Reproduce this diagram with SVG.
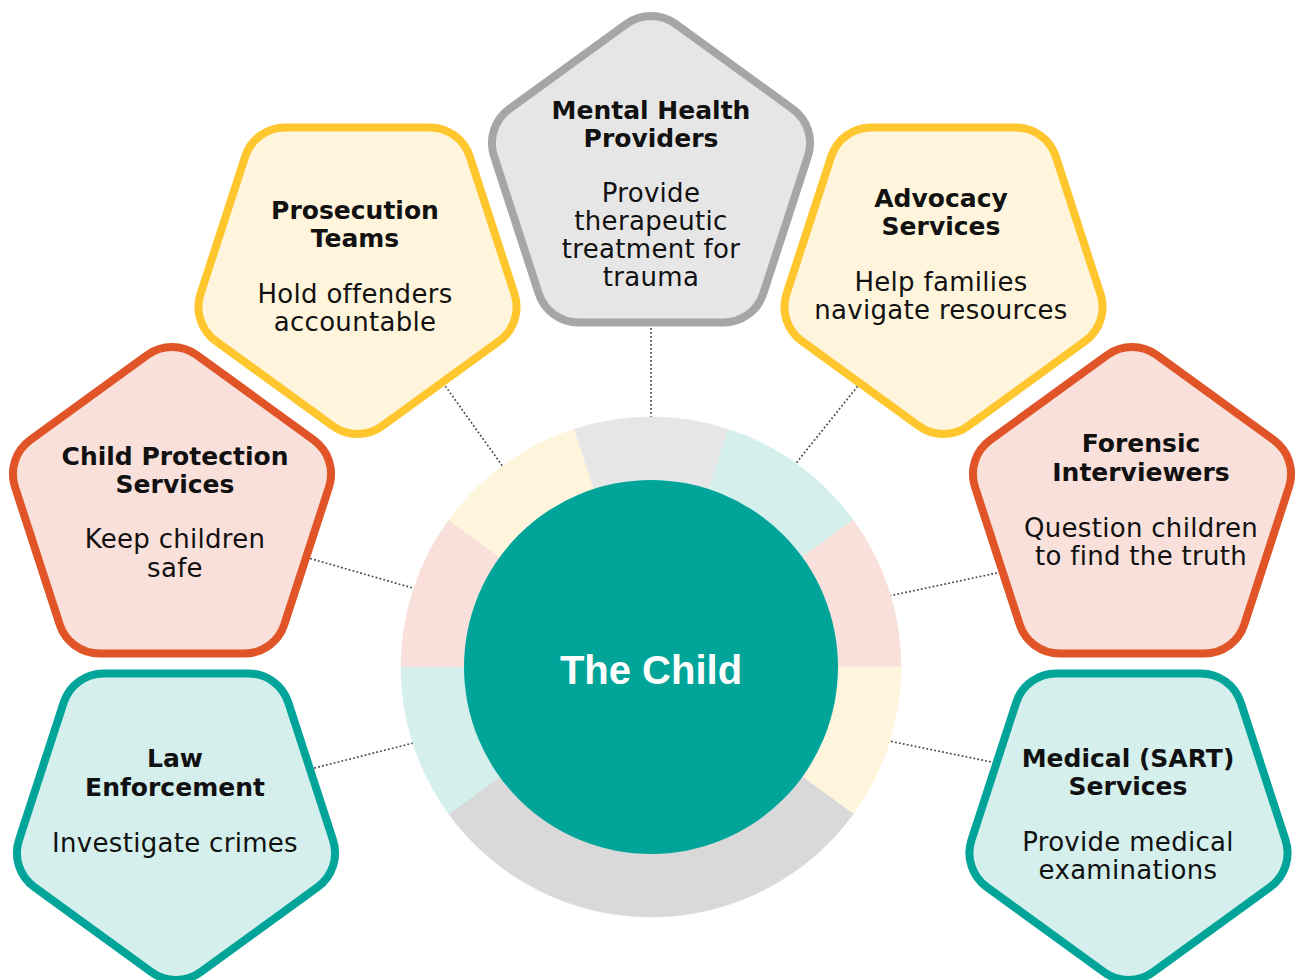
<svg xmlns="http://www.w3.org/2000/svg" xmlns:xlink="http://www.w3.org/1999/xlink" width="1297" height="980" viewBox="0 0 1297 980">
<style>
.pent{stroke-width:8}
.gray{fill:#E6E6E6;stroke:#A6A6A6}
.yel{fill:#FFF5DC;stroke:#FFC62E}
.red{fill:#F9E0DA;stroke:#E05427}
.teal{fill:#D4EFEC;stroke:#00A499}
.t{font-family:"DejaVu Sans",sans-serif;fill:#111;text-anchor:middle}
.h{font-size:25px;font-weight:bold}
.b{font-size:26px;letter-spacing:0.3px}
.conn{stroke:#4a4a4a;stroke-width:1.7;stroke-dasharray:1.8 2.2;fill:none}
.seg{stroke-width:0.6}
</style>
<defs>
<path id="pent" d="M24.69,-157.06 L141.75,-72.02 A42,42 0 0 1 157.01,-25.06 L112.29,112.56 A42,42 0 0 1 72.35,141.58 L-72.35,141.58 A42,42 0 0 1 -112.29,112.56 L-157.01,-25.06 A42,42 0 0 1 -141.75,-72.02 L-24.69,-157.06 A42,42 0 0 1 24.69,-157.06 Z"/>
</defs>
<rect width="1297" height="980" fill="#fff"/>
<g id="connectors">
<line class="conn" x1="651" y1="300" x2="651" y2="440"/>
<line class="conn" x1="431.5" y1="366.6" x2="515.5" y2="484.4"/>
<line class="conn" x1="872.6" y1="367.5" x2="777.4" y2="486.5"/>
<line class="conn" x1="291" y1="553" x2="437" y2="595"/>
<line class="conn" x1="1016.5" y1="568.8" x2="864.5" y2="601.2"/>
<line class="conn" x1="291" y1="774" x2="437" y2="737"/>
<line class="conn" x1="1006.5" y1="765" x2="864.5" y2="736"/>
</g>
<g id="ring">
<path class="seg" fill="#E6E6E6" stroke="#E6E6E6" d="M573.75,429.22 A250,250 0 0 1 728.25,429.22 L708.78,489.14 A187,187 0 0 0 593.22,489.14 Z"/>
<path class="seg" fill="#D4EFEC" stroke="#D4EFEC" d="M728.25,429.22 A250,250 0 0 1 853.25,520.05 L802.28,557.08 A187,187 0 0 0 708.78,489.14 Z"/>
<path class="seg" fill="#F9E0DA" stroke="#F9E0DA" d="M853.25,520.05 A250,250 0 0 1 901,667 L838,667 A187,187 0 0 0 802.28,557.08 Z"/>
<path class="seg" fill="#FFF5DC" stroke="#FFF5DC" d="M901,667 A250,250 0 0 1 853.25,813.95 L802.28,776.92 A187,187 0 0 0 838,667 Z"/>
<path class="seg" fill="#D9D9D9" stroke="#D9D9D9" d="M853.25,813.95 A250,250 0 0 1 448.75,813.95 L499.72,776.92 A187,187 0 0 0 802.28,776.92 Z"/>
<path class="seg" fill="#D4EFEC" stroke="#D4EFEC" d="M448.75,813.95 A250,250 0 0 1 401,667 L464,667 A187,187 0 0 0 499.72,776.92 Z"/>
<path class="seg" fill="#F9E0DA" stroke="#F9E0DA" d="M401,667 A250,250 0 0 1 448.75,520.05 L499.72,557.08 A187,187 0 0 0 464,667 Z"/>
<path class="seg" fill="#FFF5DC" stroke="#FFF5DC" d="M448.75,520.05 A250,250 0 0 1 573.75,429.22 L593.22,489.14 A187,187 0 0 0 499.72,557.08 Z"/>
</g>
<g id="center">
<circle cx="651" cy="667" r="187" fill="#00A499"/>
<text x="651" y="684" text-anchor="middle" font-family="'Liberation Sans',Arial,sans-serif" font-weight="bold" font-size="40" fill="#fff">The Child</text>
</g>
<g id="mental-health">
<use xlink:href="#pent" class="pent gray" transform="translate(651,181)"/>
<text class="t h" x="651" y="119">Mental Health</text>
<text class="t h" x="651" y="147">Providers</text>
<text class="t b" x="651" y="202">Provide</text>
<text class="t b" x="651" y="230">therapeutic</text>
<text class="t b" x="651" y="258">treatment for</text>
<text class="t b" x="651" y="286">trauma</text>
</g>
<g id="prosecution">
<use xlink:href="#pent" class="pent yel" transform="translate(357.5,269) scale(1,-1)"/>
<text class="t h" x="355" y="219">Prosecution</text>
<text class="t h" x="355" y="247">Teams</text>
<text class="t b" x="355" y="303">Hold offenders</text>
<text class="t b" x="355" y="331">accountable</text>
</g>
<g id="advocacy">
<use xlink:href="#pent" class="pent yel" transform="translate(943.5,269) scale(1,-1)"/>
<text class="t h" x="941" y="207">Advocacy</text>
<text class="t h" x="941" y="235">Services</text>
<text class="t b" x="941" y="291">Help families</text>
<text class="t b" x="941" y="319">navigate resources</text>
</g>
<g id="child-protection">
<use xlink:href="#pent" class="pent red" transform="translate(172,512)"/>
<text class="t h" x="175" y="465">Child Protection</text>
<text class="t h" x="175" y="493">Services</text>
<text class="t b" x="175" y="548">Keep children</text>
<text class="t b" x="175" y="577">safe</text>
</g>
<g id="forensic">
<use xlink:href="#pent" class="pent red" transform="translate(1132,512)"/>
<text class="t h" x="1141" y="452">Forensic</text>
<text class="t h" x="1141" y="481">Interviewers</text>
<text class="t b" x="1141" y="537">Question children</text>
<text class="t b" x="1141" y="565">to find the truth</text>
</g>
<g id="law-enforcement">
<use xlink:href="#pent" class="pent teal" transform="translate(176,815) scale(1,-1)"/>
<text class="t h" x="175" y="767">Law</text>
<text class="t h" x="175" y="796">Enforcement</text>
<text class="t b" x="175" y="852">Investigate crimes</text>
</g>
<g id="medical">
<use xlink:href="#pent" class="pent teal" transform="translate(1128.5,815) scale(1,-1)"/>
<text class="t h" x="1128" y="767">Medical (SART)</text>
<text class="t h" x="1128" y="795">Services</text>
<text class="t b" x="1128" y="851">Provide medical</text>
<text class="t b" x="1128" y="879">examinations</text>
</g>
</svg>
